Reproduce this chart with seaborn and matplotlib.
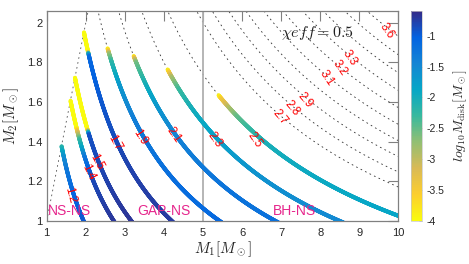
import numpy as np
import matplotlib
matplotlib.use("Agg")
import matplotlib.pyplot as plt
import seaborn as sns
from matplotlib.collections import LineCollection
from matplotlib.colors import LinearSegmentedColormap, Normalize
from matplotlib.cm import ScalarMappable
from matplotlib.patches import Polygon

# ---------------- data ----------------
dotted_levels = [1.2, 1.4, 1.5, 1.7, 1.9, 2.1, 2.3, 2.5, 2.7, 2.8, 2.9, 3.0,
                 3.1, 3.2, 3.3, 3.4, 3.5, 3.6]
colored_levels = [1.2, 1.4, 1.5, 1.7, 1.9, 2.1, 2.3, 2.5]

m2_c12 = [1.376, 1.32, 1.256, 1.12, 1.0]
md_c12 = [-2.2, -1.6, -1.3, -1.05, -0.95]
m2_c14 = [1.608, 1.47, 1.45, 1.41, 1.37, 1.32, 1.22, 1.0]
md_c14 = [-4.0, -4.0, -3.3, -2.3, -1.9, -1.3, -0.85, -0.7]
m2_c15 = [1.723, 1.462, 1.45, 1.435, 1.0]
md_c15 = [-4.0, -4.0, -2.4, -0.9, -0.68]
m2_c17 = [1.953, 1.855, 1.845, 1.83, 1.6, 1.3, 1.0]
md_c17 = [-4.0, -4.0, -2.0, -1.1, -0.95, -0.8, -0.72]
m2_c19 = [1.871, 1.862, 1.845, 1.80, 1.68, 1.5, 1.2, 1.0]
md_c19 = [-4.0, -3.6, -2.8, -2.2, -1.7, -1.35, -1.15, -1.1]
m2_c21 = [1.833, 1.82, 1.80, 1.68, 1.56, 1.40, 1.2, 1.0]
md_c21 = [-4.0, -3.2, -2.6, -2.0, -1.65, -1.4, -1.25, -1.2]
m2_c23 = [1.765, 1.75, 1.727, 1.66, 1.56, 1.41, 1.2, 1.0]
md_c23 = [-4.0, -3.5, -2.9, -2.3, -2.0, -1.8, -1.6, -1.5]
m2_c25 = [1.635, 1.615, 1.57, 1.525, 1.46, 1.40, 1.29, 1.0]
md_c25 = [-4.0, -3.5, -2.9, -2.5, -2.25, -2.05, -1.95, -1.85]
color_m2 = [m2_c12, m2_c14, m2_c15, m2_c17, m2_c19, m2_c21, m2_c23, m2_c25]
color_md = [md_c12, md_c14, md_c15, md_c17, md_c19, md_c21, md_c23, md_c25]

# contour labels: text and centre position (M1, M2)
label_text = ["1.2", "1.4", "1.5", "1.7", "1.9", "2.1", "2.3", "2.5",
              "2.7", "2.8", "2.9", "3.1", "3.2", "3.3", "3.6"]
label_m1 = [1.60, 2.06, 2.28, 2.75, 3.39, 4.26, 5.31, 6.33,
            6.97, 7.27, 7.61, 8.17, 8.51, 8.76, 9.70]
label_m2 = [1.13, 1.246, 1.298, 1.392, 1.424, 1.433, 1.408, 1.408,
            1.525, 1.568, 1.61, 1.72, 1.771, 1.822, 1.957]
label_rot = [-75, -65, -62, -61, -57, -55, -54, -55,
             -50, -50, -50, -56, -55, -55, -55]

region_names = ["NS-NS", "GAP-NS", "BH-NS"]
region_x = [1.03, 3.31, 6.79]
region_y = 1.03

x_ticks = [1, 2, 3, 4, 5, 6, 7, 8, 9, 10]
y_ticks = [1, 1.2, 1.4, 1.6, 1.8, 2]
y_ticklabels = ["1", "1.2", "1.4", "1.6", "1.8", "2"]
cbar_ticks = [-4, -3.5, -3, -2.5, -2, -1.5, -1]
cbar_ticklabels = ["-4", "-3.5", "-3", "-2.5", "-2", "-1.5", "-1"]
cbar_min, cbar_max = -4.0, -0.6

parula_colors = ['#352a87', '#0363e1', '#1485d4', '#06a7c6', '#38b99e',
                 '#92bf73', '#d9ba56', '#fcce2e', '#f9fb0e']

# ---------------- style ----------------
sns.set_theme(style="white")
plt.rcParams['font.family'] = ['Liberation Sans', 'DejaVu Sans']
plt.rcParams['mathtext.fontset'] = 'cm'
plt.rcParams['axes.unicode_minus'] = False

cmap = LinearSegmentedColormap.from_list("parula", parula_colors).reversed()
norm = Normalize(cbar_min, cbar_max)

fig = plt.figure(figsize=(4.69, 2.64), dpi=100)
ax = fig.add_axes([0.0996, 0.164, 0.7497, 0.7943])
cax = fig.add_axes([0.8757, 0.164, 0.0247, 0.7943])

# chirp-mass field
m1g, m2g = np.meshgrid(np.linspace(0.9, 10.3, 800), np.linspace(0.9, 2.15, 500))
mc = (m1g * m2g) ** 0.6 / (m1g + m2g) ** 0.2

dash = (0, (2, 4))
cs = ax.contour(m1g, m2g, mc, levels=dotted_levels, colors='#303030',
                linewidths=0.6, linestyles=[dash], zorder=1)
clip = Polygon([[0, 0], [12, 12], [12, 0]], closed=True, transform=ax.transData)
cs.set_clip_path(clip)

# coloured curves following the chirp-mass contours
for lev, m2s, mds in zip(colored_levels, color_m2, color_md):
    i = dotted_levels.index(lev)
    pts = np.concatenate(cs.allsegs[i])
    keep = (pts[:, 1] <= pts[:, 0]) & (pts[:, 1] <= m2s[0]) & (pts[:, 1] >= 0.99)
    pts = pts[keep]
    pts = pts[np.argsort(pts[:, 0])]
    mid = 0.5 * (pts[:-1] + pts[1:])
    vals = np.interp(mid[:, 1], m2s[::-1], mds[::-1])
    segs = np.stack([pts[:-1], pts[1:]], axis=1)
    lc = LineCollection(segs, colors=cmap(norm(vals)), linewidths=2.9,
                        capstyle='round', joinstyle='round', zorder=3)
    ax.add_collection(lc)

for txt, x, y, r in zip(label_text, label_m1, label_m2, label_rot):
    ax.text(x, y, txt, color='red', fontsize=8.5, rotation=r,
            rotation_mode='anchor', ha='center', va='center', zorder=6)

# vertical line at M1 = 5 and diagonal M1 = M2
sns.lineplot(x=[5, 5], y=[1, 2.06], ax=ax, color='#b0b0b0', lw=1.3,
             estimator=None, sort=False, zorder=2)
sns.lineplot(x=[1, 2.1], y=[1, 2.1], ax=ax, color='#505050', lw=0.6,
             estimator=None, sort=False, zorder=1)
ax.lines[-1].set_linestyle(dash)

for name, xx in zip(region_names, region_x):
    ax.text(xx, region_y, name, color='#e6268c', fontsize=10, va='baseline',
            ha='left', zorder=7)

ax.text(7.0, 1.931, r'$\chi eff = 0.5$', fontsize=11.5, va='baseline',
        ha='left', color='#202020', zorder=7)

ax.set_xlim(1, 10)
ax.set_ylim(1, 2.06)
ax.set_xticks(x_ticks)
ax.set_yticks(y_ticks)
ax.set_yticklabels(y_ticklabels)
ax.set_xlabel(r'$M_1[M_\odot]$', fontsize=11, labelpad=1, color='#262626')
ax.set_ylabel(r'$M_2[M_\odot]$', fontsize=11, labelpad=4, color='#262626')
ax.tick_params(direction='in', length=7, width=0.8, color='#808080',
               top=True, right=True, labelsize=8, labelcolor='#262626')
ax.tick_params(axis='x', pad=5.5)
ax.tick_params(axis='y', pad=3)
for s in ax.spines.values():
    s.set_color('#808080')
    s.set_linewidth(0.9)

sm = ScalarMappable(norm=norm, cmap=cmap)
cb = fig.colorbar(sm, cax=cax)
cb.set_ticks(cbar_ticks)
cb.set_ticklabels(cbar_ticklabels)
cb.outline.set_edgecolor('#c8c8c8')
cb.outline.set_linewidth(0.5)
cax.tick_params(direction='in', length=2.5, width=0.5, color='#a0a0a0',
                labelsize=7.5, pad=3, labelcolor='#262626')
cb.set_label(r'$log_{10}M_{\rm disk}[M_\odot]$', fontsize=10, labelpad=5,
             color='#262626')

fig.savefig("out.png", dpi=100)
